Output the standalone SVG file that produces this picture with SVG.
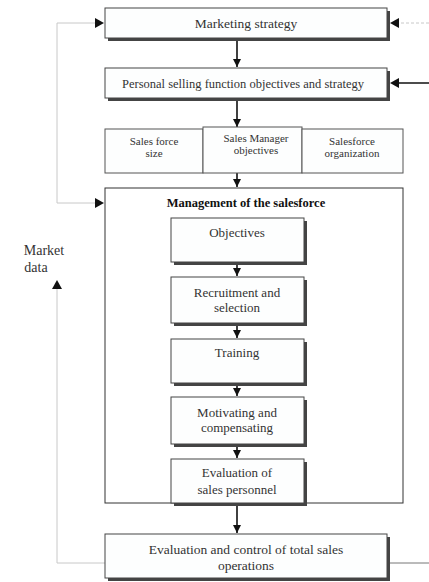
<svg xmlns="http://www.w3.org/2000/svg" width="429" height="582" viewBox="0 0 429 582">
<style>
.sh{fill:#444}
.bx{fill:#fdfefe;stroke:#444;stroke-width:1}
.pl{fill:#fdfefe;stroke:#555;stroke-width:1}
.t{font-family:"Liberation Serif",serif;font-size:13px;fill:#333;text-anchor:middle}
.s{font-size:11px}
.b{font-weight:bold;font-size:12.5px;fill:#111}
.c{fill:none;stroke:#111;stroke-width:1.6}
.g{fill:none;stroke:#c8c8c8;stroke-width:1}
.gd{fill:none;stroke:#777;stroke-width:1}
</style>
<defs>
<marker id="ah" viewBox="0 0 10 10" refX="10" refY="5" markerWidth="8" markerHeight="8" markerUnits="userSpaceOnUse" orient="auto">
<path d="M0,0 L10,5 L0,10 z" fill="#111"/>
</marker>
</defs>
<g id="connectors">
<path class="g" d="M57,203 L57,23 L96,23"/>
<path d="M95,18 L104,23 L95,28 z" fill="#111"/>
<path class="g" d="M57,203 L96,203"/>
<path d="M95,198 L104,203 L95,208 z" fill="#111"/>
<path class="g" d="M57,288 L57,563 L105,563"/>
<path d="M52,289 L57,280 L62,289 z" fill="#111"/>
<path class="g" d="M429,23 L396,23" stroke-dasharray="3,2"/>
<path d="M399,18 L390,23 L399,28 z" fill="#111"/>
<path class="c" d="M429,83 L396,83" stroke-width="1.4"/>
<path d="M399,78 L390,83 L399,88 z" fill="#111"/>
<path class="gd" d="M390,563 L429,563"/>
<line class="c" x1="237" y1="41" x2="237" y2="67" marker-end="url(#ah)"/>
<line class="c" x1="237" y1="101" x2="237" y2="127" marker-end="url(#ah)"/>
<line class="c" x1="237" y1="173" x2="237" y2="187" marker-end="url(#ah)"/>
<line class="c" x1="237" y1="265" x2="237" y2="276" marker-end="url(#ah)"/>
<line class="c" x1="237" y1="326" x2="237" y2="338" marker-end="url(#ah)"/>
<line class="c" x1="237" y1="386" x2="237" y2="396" marker-end="url(#ah)"/>
<line class="c" x1="237" y1="447" x2="237" y2="458" marker-end="url(#ah)"/>
<line class="c" x1="237" y1="506" x2="237" y2="533" marker-end="url(#ah)"/>
</g>
<g id="marketing-strategy">
<rect class="sh" x="108" y="11" width="282" height="30"/>
<rect class="bx" x="105" y="8" width="282" height="30"/>
<text class="t" x="246" y="27.5" style="font-size:13.5px">Marketing strategy</text>
</g>
<g id="personal-selling">
<rect class="sh" x="108" y="71" width="282" height="30"/>
<rect class="bx" x="105" y="68" width="282" height="30"/>
<text class="t" x="243" y="87.5" style="font-size:12.5px">Personal selling function objectives and strategy</text>
</g>
<g id="sales-force-size">
<rect class="pl" x="105" y="129" width="98" height="44"/>
<text class="t s" x="154" y="145">Sales force</text>
<text class="t s" x="154" y="157">size</text>
</g>
<g id="sales-manager-objectives">
<rect class="pl" x="203" y="127" width="99" height="46"/>
<text class="t s" x="256" y="142">Sales Manager</text>
<text class="t s" x="256" y="154">objectives</text>
</g>
<g id="salesforce-organization">
<rect class="pl" x="302" y="129" width="101" height="44"/>
<text class="t s" x="352" y="145">Salesforce</text>
<text class="t s" x="352" y="157">organization</text>
</g>
<g id="management">
<rect x="105" y="188" width="298" height="315" fill="none" stroke="#333" stroke-width="1"/>
<text class="t b" x="246" y="207">Management of the salesforce</text>
</g>
<g id="objectives">
<rect class="sh" x="174" y="221" width="133" height="44"/>
<rect class="bx" x="171" y="218" width="133" height="44"/>
<text class="t" x="237" y="237">Objectives</text>
</g>
<g id="recruitment">
<rect class="sh" x="174" y="280" width="133" height="46"/>
<rect class="bx" x="171" y="277" width="133" height="46"/>
<text class="t" x="237" y="297">Recruitment and</text>
<text class="t" x="237" y="312">selection</text>
</g>
<g id="training">
<rect class="sh" x="174" y="342" width="133" height="44"/>
<rect class="bx" x="171" y="339" width="133" height="44"/>
<text class="t" x="237" y="357">Training</text>
</g>
<g id="motivating">
<rect class="sh" x="174" y="400" width="133" height="47"/>
<rect class="bx" x="171" y="397" width="133" height="47"/>
<text class="t" x="237" y="417">Motivating and</text>
<text class="t" x="237" y="432">compensating</text>
</g>
<g id="evaluation-personnel">
<rect class="sh" x="174" y="462" width="133" height="44"/>
<rect class="bx" x="171" y="459" width="133" height="44"/>
<text class="t" x="237" y="477">Evaluation of</text>
<text class="t" x="237" y="494">sales personnel</text>
</g>
<g id="evaluation-control">
<rect class="sh" x="108" y="537" width="282" height="44"/>
<rect class="bx" x="105" y="534" width="282" height="44"/>
<text class="t" x="246" y="553.5" style="font-size:13.5px">Evaluation and control of total sales</text>
<text class="t" x="246" y="569.5" style="font-size:13.5px">operations</text>
</g>
<g id="market-data">
<text class="t" x="44" y="255" style="font-size:14px">Market</text>
<text class="t" x="36" y="272" style="font-size:14px">data</text>
</g>
</svg>
